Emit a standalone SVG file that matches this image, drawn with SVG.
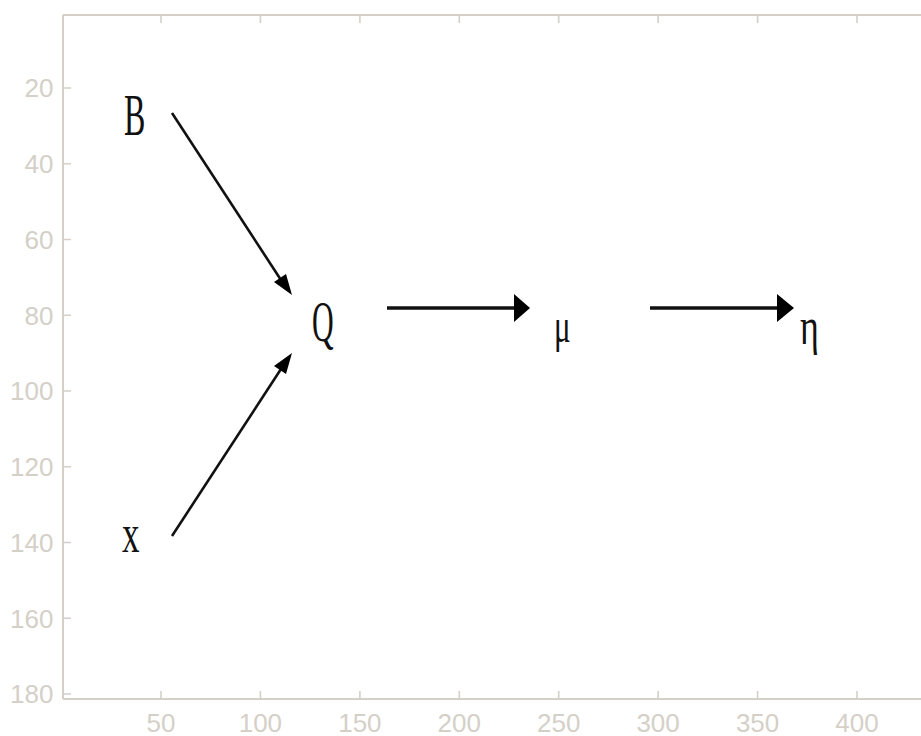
<svg xmlns="http://www.w3.org/2000/svg" width="921" height="736" viewBox="0 0 921 736">
<style>
.ax{stroke:#d4d0c8;stroke-width:2;fill:none}
.tk{stroke:#d4d0c8;stroke-width:1.6}
.tl{font-family:"Liberation Sans",Arial,sans-serif;font-size:26px;fill:#d4d0c8}
.yl{text-anchor:end}
.xl{text-anchor:middle}
.lt{font-family:"Liberation Serif","Times New Roman",serif;fill:#111}
.ln{stroke:#111;fill:none}
.hd{fill:#000}
</style>
<rect width="921" height="736" fill="#fff"/>
<g id="axes">
<path class="ax" d="M63,15 H921 M63,15 V699 M63,699 H921"/>
<path class="tk" d="M63,88 h8 M63,163.75 h8 M63,239.5 h8 M63,315.25 h8 M63,391 h8 M63,466.75 h8 M63,542.5 h8 M63,618.25 h8 M63,694 h8"/>
<path class="tk" d="M161,699 v-8 M260.4,699 v-8 M359.9,699 v-8 M459.3,699 v-8 M558.7,699 v-8 M658.1,699 v-8 M757.6,699 v-8 M857,699 v-8"/>
<path class="tk" d="M161,15 v8 M260.4,15 v8 M359.9,15 v8 M459.3,15 v8 M558.7,15 v8 M658.1,15 v8 M757.6,15 v8 M857,15 v8"/>
<g class="tl yl">
<text x="53.5" y="97.3">20</text>
<text x="53.5" y="173">40</text>
<text x="53.5" y="248.8">60</text>
<text x="53.5" y="324.5">80</text>
<text x="53.5" y="400.3">100</text>
<text x="53.5" y="476">120</text>
<text x="53.5" y="551.8">140</text>
<text x="53.5" y="627.5">160</text>
<text x="53.5" y="703.3">180</text>
</g>
<g class="tl xl">
<text x="161" y="731.6">50</text>
<text x="260.4" y="731.6">100</text>
<text x="359.9" y="731.6">150</text>
<text x="459.3" y="731.6">200</text>
<text x="558.7" y="731.6">250</text>
<text x="658.1" y="731.6">300</text>
<text x="757.6" y="731.6">350</text>
<text x="857" y="731.6">400</text>
</g>
</g>
<g id="node-B"><text class="lt" transform="translate(124,134.5) scale(1,1.85)" font-size="32">B</text></g>
<g id="node-Q"><text class="lt" transform="translate(312,341) scale(1,1.9)" font-size="30">Q</text></g>
<g id="node-mu"><text class="lt" transform="translate(554,342) scale(1,1.55)" font-size="31">μ</text></g>
<g id="node-eta"><text class="lt" transform="translate(800,344) scale(1,1.45)" font-size="36">η</text></g>
<g id="node-x"><text class="lt" transform="translate(122,552) scale(1,1.55)" font-size="35">x</text></g>
<g id="connectors">
<line class="ln" x1="172" y1="113" x2="281" y2="280" stroke-width="2.6"/>
<polygon class="hd" points="292,295 274,282 286,274"/>
<line class="ln" x1="172" y1="536" x2="281" y2="369" stroke-width="2.6"/>
<polygon class="hd" points="292,353 286,374 274,366"/>
<line class="ln" x1="387" y1="308" x2="517" y2="308" stroke-width="3.6"/>
<polygon class="hd" points="530,308 514,294 514,322"/>
<line class="ln" x1="650" y1="308" x2="780" y2="308" stroke-width="3.6"/>
<polygon class="hd" points="794,308 777,294 777,322"/>
</g>
</svg>
